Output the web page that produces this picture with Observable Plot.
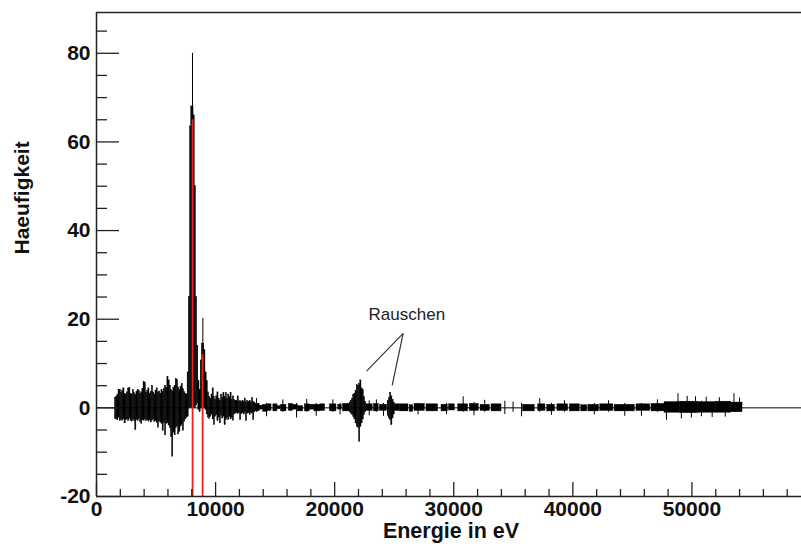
<!DOCTYPE html>
<html><head><meta charset="utf-8">
<script src="https://cdn.jsdelivr.net/npm/d3@7"></script>
<script src="https://cdn.jsdelivr.net/npm/@observablehq/plot@0.6"></script>
<style>
html,body{margin:0;padding:0;background:#fff;}
</style>
</head><body><div id="chart"></div>
<script>
// ---- axes ----
const xDomain = [0, 59200];
const yDomain = [-20, 89.2];
const xMajor = [0, 10000, 20000, 30000, 40000, 50000];
const xMinor = [2000,4000,6000,8000,12000,14000,16000,18000,22000,24000,26000,28000,32000,34000,36000,38000,42000,44000,46000,48000,52000,54000,56000,58000];
const yMajor = [-20, 0, 20, 40, 60, 80];
const yMinor = [-15,-10,-5,5,10,15,25,30,35,45,50,55,65,70,75,85];
const xTitle = "Energie in eV";
const yTitle = "Haeufigkeit";

// ---- dense histogram region (100 eV bins from 1550 eV): error bar ends ----
const denseStart = 1550;
const binWidth = 100;
const denseHi = [
 2.2,2.5,3.0,4.0,4.1,3.4,3.8,4.4,3.2,3.0,
 3.5,4.3,4.5,3.2,3.0,4.0,3.3,2.9,3.6,4.0,
 3.8,3.1,3.5,4.2,5.9,5.6,3.4,3.8,4.4,3.2,
 3.6,5.0,3.5,3.0,3.9,4.4,3.4,3.7,3.2,4.0,
 3.6,4.2,5.0,4.5,6.9,6.2,5.0,4.0,3.7,4.5,
 5.0,6.5,6.3,4.6,4.0,4.8,5.4,4.2,3.6,3.2,
 3.0,8.0,25,63.5,68,68,66,50,25,14,
 6,4,10.7,14.5,14.5,13,8,6,3.5,2.5,
 2.0,3.0,4.4,2.4,1.8,2.6,3.5,2.0,1.6,3.0,
 2.2,3.3,2.5,3.3,2.0,3.0,2.4,3.3,1.8,2.6,
 1.8,1.5,1.6,2.6,1.4,1.5,1.3,1.6,1.4,2.1,
 1.2,1.5,1.3,1.6,1.2,2.2,1.3,1.2];
const denseLo = [
 -2.5,-2.6,-2.8,-2.2,-3.0,-2.7,-2.9,-2.5,-3.5,-2.8,
 -2.6,-3.0,-2.4,-2.9,-3.1,-2.6,-3.0,-5.0,-2.7,-3.0,
 -2.5,-3.2,-3.6,-2.8,-2.9,-2.6,-3.0,-2.7,-3.1,-2.8,
 -3.3,-2.9,-2.6,-3.2,-3.0,-3.4,-4.5,-3.0,-3.3,-3.6,
 -5.2,-3.4,-6.2,-3.6,-3.5,-4.0,-4.6,-6.6,-11.0,-5.6,
 -6.2,-4.6,-4.2,-6.0,-5.4,-4.2,-3.8,-5.2,-3.2,-2.6,
 -2.2,-2.0,0,0,0,0,0,0,0.5,1,
 -0.5,-1,0,0,0,0,-0.5,-1.5,-2.2,-2.5,
 -2.0,-1.5,-2.6,-3.9,-2.0,-1.6,-3.0,-2.2,-3.5,-1.8,
 -2.4,-2.0,-3.9,-2.8,-2.3,-2.8,-2.0,-2.6,-2.2,-2.9,
 -1.5,-1.3,-1.2,-1.4,-1.2,-2.8,-1.4,-1.2,-1.5,-1.1,
 -3.0,-1.3,-1.2,-1.6,-1.1,-1.3,-2.8,-1.0];

// ---- noise peaks ("Rauschen"), 100 eV bins: [start eV, low, high] ----
const noiseBins = [
 [21250,-1.0,1.2],[21350,-1.3,1.6],[21450,-1.6,2.0],[21550,-2.0,2.9],[21650,-2.6,3.2],
 [21750,-3.5,3.8],[21850,-4.3,5.1],[21950,-4.5,5.0],[22050,-7.7,5.4],[22150,-4.3,6.2],
 [22250,-3.5,4.4],[22350,-2.6,4.0],[22450,-1.6,2.4],[22550,-1.0,1.4],
 [24450,-1.8,1.5],[24550,-2.4,2.2],[24650,-2.8,3.4],[24750,-3.9,2.6],[24850,-2.4,1.8],[24950,-1.5,1.2]];

// ---- sparse region: runs of low-count bins [from eV, to eV, low, high] ----
const blocks = [
 [13300,13700,-0.8,0.9],[13700,14000,-0.4,0.5],[14000,14400,-0.9,0.7],[14400,14700,-0.7,0.8],
 [14850,15200,-0.8,0.8],[15200,15500,-0.3,0.4],[15500,15950,-0.8,0.7],
 [16150,16500,-0.7,0.9],[16500,16900,-0.4,0.7],[16900,17350,-0.8,0.4],
 [17500,17900,-0.8,0.8],[17900,18300,-0.4,0.7],[18300,18800,-0.8,0.7],[18800,19200,-0.7,0.8],
 [19600,20150,-0.8,0.8],[20300,20600,-0.4,0.7],[20700,21250,-0.8,0.9],
 [22650,23200,-0.7,0.8],[23300,23700,-0.8,0.9],[23800,24400,-0.7,0.7],
 [25050,25450,-0.7,0.8],[25470,26200,-0.8,0.8],[26300,26600,-0.9,0.6],[26700,27570,-0.7,0.9],
 [27710,28690,-0.8,0.8],[28970,29500,-0.8,0.7],[29600,30090,-0.6,0.8],
 [30370,31200,-0.8,0.8],[31350,32100,-0.7,0.9],[32250,33030,-0.7,0.7],[33170,34010,-0.8,0.8],
 [35820,36800,-0.8,0.7],[37080,37700,-0.7,0.8],[37850,38500,-0.8,0.7],[38700,39600,-0.7,0.8],
 [39750,40580,-0.8,0.8],[40700,41200,-0.8,0.6],[41300,42200,-0.8,0.7],[42300,43400,-0.7,0.8],
 [43500,45200,-0.8,0.7],[45340,46500,-0.7,0.8],[46600,47700,-0.8,0.9],
 [47700,49000,-1.1,1.3],[49000,50500,-1.2,1.4],[50500,52000,-1.1,1.3],[52000,53300,-1.1,1.4],
 [53300,54250,-1.0,1.2]];

// ---- single tall error bars: [eV, low, high] ----
const spikes = [
 [8060,60,80],[8930,12,20.2],
 [13440,-1,2.1],[14280,-2.0,1],[15650,-1,1.8],[16800,-2.3,1],[17650,-1,1.9],[18450,-1.9,1],
 [19850,-1,1.8],[20450,-1.6,1],[22900,-1.8,1.6],[23500,-1,1.8],[24100,-1.9,1],
 [27000,-1.6,1.0],[29390,-1.5,1.0],[30790,-1.0,2.5],[31700,-1.8,1.2],[32600,-1.0,1.7],
 [34290,-1.5,1.5],[34980,-1.0,1.3],[35690,-2.0,1.0],[37220,-1.0,2.1],[38200,-1.7,1.0],
 [39300,-1.0,1.6],[41800,-1.6,1.0],[43000,-1.0,1.6],[44360,-1.9,1.0],[45760,-1.9,1.0],
 [47100,-1.0,1.8],[47860,-2.8,1.0],[48830,-1.0,3.2],[49110,-2.5,1.0],[49600,-1.0,2.6],
 [49950,-2.3,1.0],[50300,-1.0,2.5],[50800,-2.0,1.5],[51200,-1.0,2.4],[51700,-2.2,1.0],
 [52300,-1.0,2.3],[52800,-2.1,1.0],[53530,-1.0,3.2],[54000,-1.0,2.2]];

// ---- reference lines (red) ----
const lineE = [8070, 8910];
const lineTop = [65, 12];

// ---- annotation ----
const noteText = "Rauschen";
const noteX = 26060, noteY = 21.1;
const arrowFrom = [25750, 16.8];
const arrowTo = [[22680, 8.3], [24830, 5.1]];

// ---- layout ----
const W = 801, H = 549, mL = 96, mR = 0, mT = 12, mB = 53;
const plotW = W - mL - mR, plotH = H - mT - mB;

const dense = denseHi.map((h, i) => ({x1: denseStart + i * binWidth, x2: denseStart + (i + 1) * binWidth, y1: denseLo[i], y2: h}));
const noise = noiseBins.map(([e, lo, hi]) => ({x1: e, x2: e + binWidth, y1: lo, y2: hi}));
const runs = blocks.map(([a, b, lo, hi]) => ({x1: a, x2: b, y1: lo, y2: hi}));
const reds = lineE.map((e, i) => ({x: e, y1: yDomain[0], y2: lineTop[i]}));
const arrows = arrowTo.map(([x, y]) => ({x1: arrowFrom[0], y1: arrowFrom[1], x2: x, y2: y}));

const font = '"Liberation Sans", Arial, Helvetica, sans-serif';
const axisCol = "#222";

const chart = Plot.plot({
  width: W, height: H,
  marginLeft: mL, marginRight: mR, marginTop: mT, marginBottom: mB,
  x: {domain: xDomain},
  y: {domain: yDomain},
  style: {fontFamily: font, background: "#fff", color: "#111"},
  marks: [
    Plot.ruleY([0], {stroke: "#000", strokeWidth: 1}),
    Plot.rect(runs, {x1: "x1", x2: "x2", y1: "y1", y2: "y2", fill: "#000", stroke: "#000", strokeWidth: 0.4}),
    Plot.rect(dense, {x1: "x1", x2: "x2", y1: "y1", y2: "y2", fill: "#000", stroke: "#000", strokeWidth: 0.4}),
    Plot.rect(noise, {x1: "x1", x2: "x2", y1: "y1", y2: "y2", fill: "#000", stroke: "#000", strokeWidth: 0.4}),
    Plot.ruleX(spikes, {x: d => d[0], y1: d => d[1], y2: d => d[2], stroke: "#000", strokeWidth: 1}),
    Plot.ruleX(reds, {x: "x", y1: "y1", y2: "y2", stroke: "#f02020", strokeWidth: 1.8}),
    // frame (top, left, bottom)
    Plot.ruleY([yDomain[1]], {stroke: axisCol, strokeWidth: 1.5}),
    Plot.ruleY([yDomain[0]], {stroke: axisCol, strokeWidth: 1.5}),
    Plot.ruleX([xDomain[0]], {stroke: axisCol, strokeWidth: 1.5}),
    // inward ticks
    Plot.tickX(xMajor, {x: d => d, insetTop: plotH - 14, stroke: axisCol, strokeWidth: 1.3}),
    Plot.tickX(xMinor, {x: d => d, insetTop: plotH - 7, stroke: axisCol, strokeWidth: 1.3}),
    Plot.tickY(yMajor, {y: d => d, insetRight: plotW - 23, stroke: axisCol, strokeWidth: 1.3}),
    Plot.tickY(yMinor, {y: d => d, insetRight: plotW - 11, stroke: axisCol, strokeWidth: 1.3}),
    // tick labels
    Plot.axisX(xMajor, {tickSize: 0, tickPadding: 5, tickFormat: d => String(d), fontSize: 21, fontWeight: "bold", fill: "#111", label: null}),
    Plot.axisY(yMajor, {tickSize: 0, tickPadding: 6, tickFormat: d => String(d), fontSize: 21, fontWeight: "bold", fill: "#111", label: null}),
    // titles
    Plot.text([yTitle], {text: d => d, frameAnchor: "left", dx: -74, rotate: -90, fontSize: 21, fontWeight: "bold", fill: "#111"}),
    Plot.text([xTitle], {text: d => d, frameAnchor: "bottom", dx: 2, dy: 41, fontSize: 21.5, fontWeight: "bold", fill: "#111"}),
    // annotation
    Plot.link(arrows, {x1: "x1", y1: "y1", x2: "x2", y2: "y2", stroke: "#333", strokeWidth: 1.2}),
    Plot.text([noteText], {text: d => d, x: () => noteX, y: () => noteY, fontSize: 17, fill: "#222"})
  ]
});
document.getElementById("chart").appendChild(chart);
</script>
</body></html>
